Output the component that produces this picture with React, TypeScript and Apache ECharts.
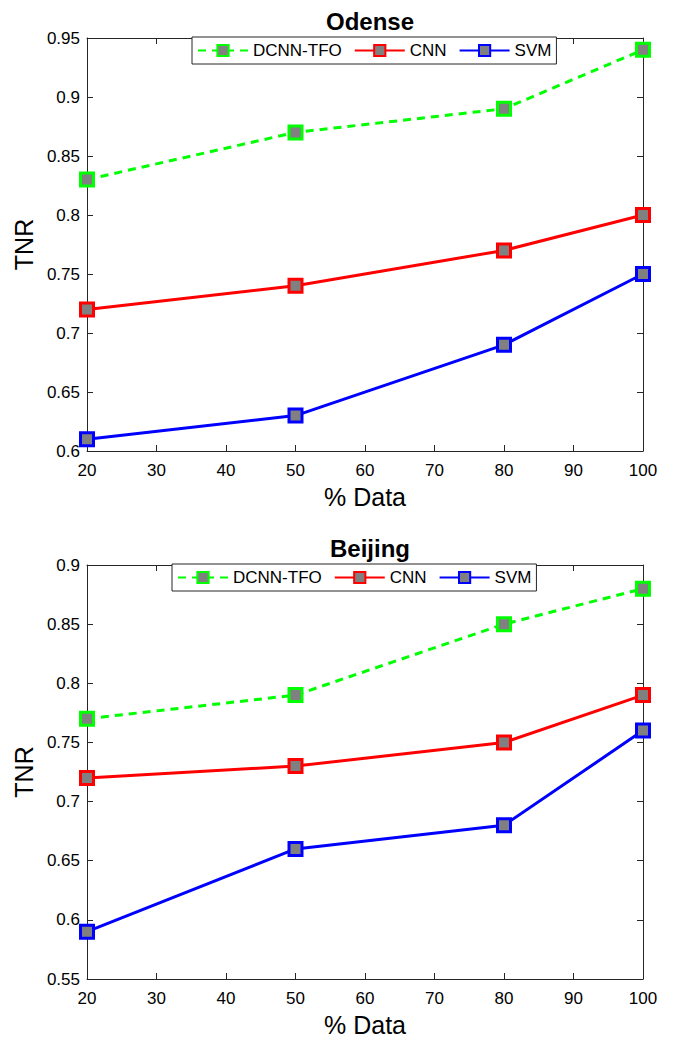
import React, { useEffect, useRef } from "react";
import * as echarts from "echarts";

const xData = [20, 50, 80, 100];
const seriesNames = ["DCNN-TFO", "CNN", "SVM"];
const odenseDCNN = [0.83, 0.87, 0.89, 0.94];
const odenseCNN = [0.72, 0.74, 0.77, 0.8];
const odenseSVM = [0.61, 0.63, 0.69, 0.75];
const beijingDCNN = [0.77, 0.79, 0.85, 0.88];
const beijingCNN = [0.72, 0.73, 0.75, 0.79];
const beijingSVM = [0.59, 0.66, 0.68, 0.76];
const titles = ["Odense", "Beijing"];

const colors = ["#00ff00", "#ff0000", "#0000ff"];
const FONT = "Liberation Sans, Arial, Helvetica, sans-serif";

export default function App() {
  const ref = useRef<HTMLDivElement>(null);
  useEffect(() => {
    if (!ref.current) return;
    const chart = echarts.init(ref.current, undefined, { renderer: "svg" });
    const grids = [
      { left: 87, top: 38, width: 556, height: 413 },
      { left: 87, top: 565, width: 556, height: 414 },
    ];
    const yRanges = [
      [0.6, 0.95],
      [0.55, 0.9],
    ];
    const datasets = [
      [odenseDCNN, odenseCNN, odenseSVM],
      [beijingDCNN, beijingCNN, beijingSVM],
    ];
    const axisLine = { show: true, lineStyle: { color: "#262626", width: 1 } };
    const tick = { show: true, inside: true, length: 6, lineStyle: { color: "#262626" } };
    const xAxes: any[] = [];
    const yAxes: any[] = [];
    const series: any[] = [];
    grids.forEach((g, i) => {
      xAxes.push({
        type: "value",
        gridIndex: i,
        min: 20,
        max: 100,
        interval: 10,
        position: "bottom",
        name: "% Data",
        nameLocation: "middle",
        nameGap: 33,
        nameTextStyle: { color: "#000", fontSize: 25, fontFamily: FONT },
        axisLine,
        axisTick: tick,
        axisLabel: { color: "#000", fontSize: 17, fontFamily: FONT, margin: 11 },
        splitLine: { show: false },
      });
      xAxes.push({
        type: "value",
        gridIndex: i,
        min: 20,
        max: 100,
        interval: 10,
        position: "top",
        axisLine,
        axisTick: tick,
        axisLabel: { show: false },
        splitLine: { show: false },
      });
      yAxes.push({
        type: "value",
        gridIndex: i,
        min: yRanges[i][0],
        max: yRanges[i][1],
        interval: 0.05,
        position: "left",
        name: "TNR",
        nameLocation: "middle",
        nameGap: 47,
        nameRotate: 90,
        nameTextStyle: { color: "#000", fontSize: 25, fontFamily: FONT },
        axisLine,
        axisTick: tick,
        axisLabel: {
          color: "#000",
          fontSize: 17,
          fontFamily: FONT,
          margin: 7,
          formatter: (v: number) => String(parseFloat(v.toFixed(2))),
        },
        splitLine: { show: false },
      });
      yAxes.push({
        type: "value",
        gridIndex: i,
        min: yRanges[i][0],
        max: yRanges[i][1],
        interval: 0.05,
        position: "right",
        axisLine,
        axisTick: tick,
        axisLabel: { show: false },
        splitLine: { show: false },
      });
      datasets[i].forEach((vals, k) => {
        series.push({
          type: "line",
          name: seriesNames[k],
          xAxisIndex: i * 2,
          yAxisIndex: i * 2,
          data: xData.map((x, j) => [x, vals[j]]),
          symbol: "rect",
          symbolSize: 13,
          lineStyle: { color: colors[k], width: 3, type: k === 0 ? [8, 6] : "solid" },
          itemStyle: { color: "#808080", borderColor: colors[k], borderWidth: 3 },
          emphasis: { disabled: true },
          z: 5 - k,
        });
      });
    });

    const legends = [
      { left: 192, top: 37 },
      { left: 172, top: 564 },
    ].map((p) => ({
      ...p,
      orient: "horizontal",
      data: seriesNames,
      backgroundColor: "#fff",
      borderColor: "#262626",
      borderWidth: 1,
      padding: [5, 5, 5, 5],
      itemGap: 12,
      itemWidth: 50,
      itemHeight: 14,
      textStyle: { color: "#000", fontSize: 17, fontFamily: FONT },
      selectedMode: false,
    }));

    chart.setOption({
      animation: false,
      backgroundColor: "#fff",
      title: [
        { text: titles[0], top: 4 },
        { text: titles[1], top: 531 },
      ].map((t) => ({
        ...t,
        left: 365,
        textAlign: "center",
        textStyle: { fontSize: 24, fontWeight: "bold", color: "#000", fontFamily: FONT },
      })),
      legend: legends,
      grid: grids,
      xAxis: xAxes,
      yAxis: yAxes,
      series,
    });
    return () => chart.dispose();
  }, []);
  return (
    <div
      ref={ref}
      style={{ position: "absolute", left: 0, top: 0, width: 674, height: 1040 }}
    />
  );
}
